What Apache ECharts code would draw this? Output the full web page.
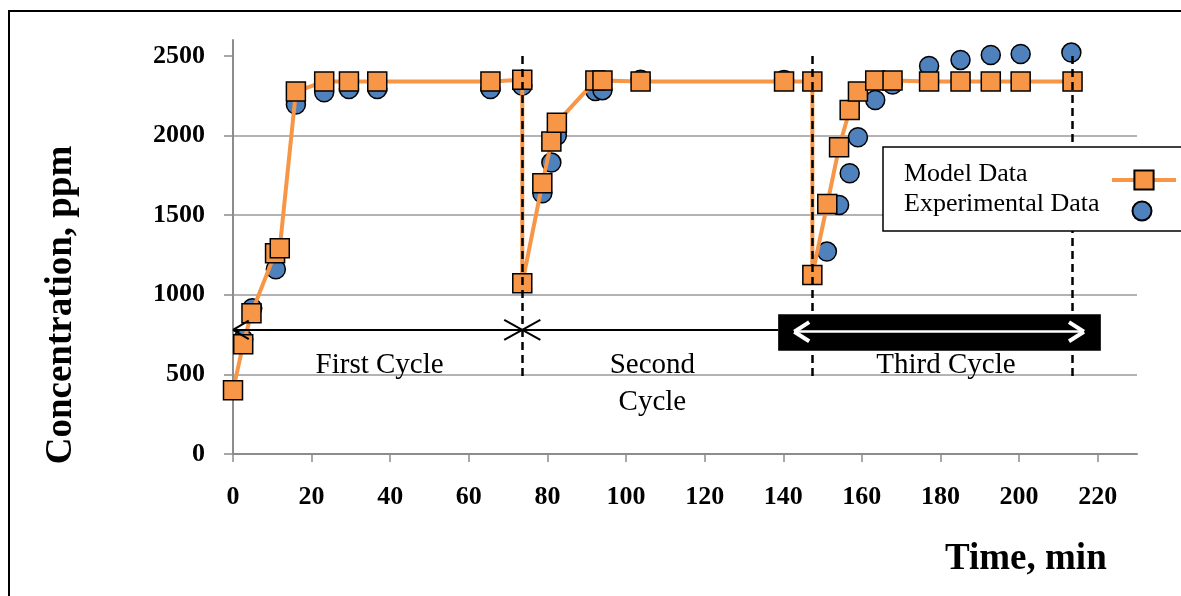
<!DOCTYPE html>
<html><head><meta charset="utf-8">
<script src="https://cdn.jsdelivr.net/npm/echarts@6/dist/echarts.min.js"></script>
<style>html,body{margin:0;padding:0;background:#fff}#c{width:1181px;height:596px}</style>
</head><body><div id="c"></div>
<script>
// ---- data ----
const xTicks = [0, 20, 40, 60, 80, 100, 120, 140, 160, 180, 200, 220];
const yTicks = [0, 500, 1000, 1500, 2000, 2500];
const seriesNames = ['Model Data', 'Experimental Data'];
const modelTime = [0, 2.6, 4.7, 10.7, 11.9, 16, 23.2, 29.5, 36.7, 65.5, 73.6, 73.6, 78.7, 81, 82.4, 92.2, 94, 103.7, 140.2, 147.4, 147.4, 151.2, 154.2, 156.9, 159, 163.4, 167.8, 177.1, 185.1, 192.8, 200.4, 213.6];
const modelConc = [400, 690, 884, 1260, 1292, 2276, 2339, 2339, 2339, 2339, 2350, 1072, 1700, 1962, 2081, 2345, 2345, 2339, 2339, 2339, 1124, 1570, 1926, 2161, 2276, 2345, 2345, 2339, 2339, 2339, 2339, 2339];
const expTime = [2.6, 4.9, 10.9, 16, 23.2, 29.5, 36.7, 65.5, 73.6, 78.7, 81, 82.4, 92.2, 94, 103.7, 140.2, 151.1, 154.2, 156.9, 159, 163.4, 167.8, 177.1, 185.1, 192.8, 200.4, 213.3];
const expConc = [720, 915, 1160, 2195, 2272, 2292, 2292, 2292, 2313, 1637, 1830, 2000, 2280, 2285, 2350, 2349, 1271, 1564, 1763, 1989, 2223, 2320, 2437, 2475, 2506, 2512, 2521];
const cycleEnds = [73.6, 147.4, 213.6];
const cycleLineRange = [480, 2500];
const cycleNames = ['First Cycle', 'Second\nCycle', 'Third Cycle'];
const cycleLabelTime = [37.3, 106.7, 181.4];
const cycleLabelConc = [557, 442, 557];
const arrowConc = 780;
const arrowStart = 0;
const barTime = [138.7, 220.8];
const barConc = [649, 877];
const whiteArrowTime = [142.8, 216.5];
const whiteArrowConc = 768;

const FONT = "'Liberation Serif', 'Times New Roman', serif";
const zip = (a, b) => a.map((v, i) => [v, b[i]]);

function chevron(tx, ty, dx, dy, style) {
  return [
    [{ coord: [tx + dx, ty + dy], lineStyle: style }, { coord: [tx, ty] }],
    [{ coord: [tx + dx, ty - dy], lineStyle: style }, { coord: [tx, ty] }]
  ];
}
const blackSolid = { color: '#000', width: 2, type: 'solid' };
const whiteSolid = { color: '#fff', width: 2.5, type: 'solid' };
const whiteHead = { color: '#fff', width: 4, type: 'solid' };
const dashed = { color: '#000', width: 2.5, type: [8, 5] };

const blackLines = [
  [{ coord: [arrowStart, arrowConc], lineStyle: blackSolid }, { coord: [barTime[0], arrowConc] }],
  ...chevron(arrowStart, arrowConc, 4.0, 58, blackSolid),
  ...chevron(cycleEnds[0], arrowConc, -4.6, 63, blackSolid),
  ...chevron(cycleEnds[0], arrowConc, 4.6, 63, blackSolid)
];
const dashLines = cycleEnds.map(t => [{ coord: [t, cycleLineRange[1]], lineStyle: dashed }, { coord: [t, cycleLineRange[0]] }]);
const whiteLines = [
  [{ coord: [whiteArrowTime[0], whiteArrowConc], lineStyle: whiteSolid }, { coord: [whiteArrowTime[1], whiteArrowConc] }],
  ...chevron(whiteArrowTime[0], whiteArrowConc, 3.8, 60, whiteHead),
  ...chevron(whiteArrowTime[1], whiteArrowConc, -3.8, 60, whiteHead)
];

const tickFont = { fontSize: 26, fontWeight: 'bold', color: '#000', fontFamily: FONT };
const chart = echarts.init(document.getElementById('c'), null, { renderer: 'canvas' });
chart.setOption({
  animation: false,
  backgroundColor: '#fff',
  grid: { left: 233, right: 44, top: 40, bottom: 142, containLabel: false },
  xAxis: {
    type: 'value', min: 0, max: 230, interval: 20,
    axisLine: { show: true, lineStyle: { color: '#8c8c8c', width: 2 } },
    axisTick: { show: true, length: 8, lineStyle: { color: '#8c8c8c', width: 1.5 }, customValues: xTicks },
    axisLabel: Object.assign({ customValues: xTicks, margin: 30, formatter: v => String(v) }, tickFont),
    splitLine: { show: false }
  },
  yAxis: {
    type: 'value', min: 0, max: 2600, interval: 500,
    axisLine: { show: true, lineStyle: { color: '#8c8c8c', width: 2 } },
    axisTick: { show: true, length: 9, lineStyle: { color: '#8c8c8c', width: 1.5 }, customValues: yTicks },
    axisLabel: Object.assign({ customValues: yTicks, margin: 28, formatter: v => String(v) }, tickFont),
    splitLine: { show: true, showMaxLine: false, lineStyle: { color: '#9a9a9a', width: 1.5 } }
  },
  legend: [
    {
      data: [seriesNames[0]], orient: 'vertical', left: 1105, top: 163,
      itemWidth: 64, itemHeight: 24, formatter: () => '', selectedMode: false, z: 9,
      lineStyle: { width: 4 }
    },
    {
      data: [seriesNames[1]], orient: 'vertical', left: 1110, top: 195.5,
      itemWidth: 54, itemHeight: 19, formatter: () => '', selectedMode: false, z: 9
    }
  ],
  graphic: [
    { type: 'rect', shape: { x: 9, y: 11, width: 1200, height: 700 }, style: { fill: 'none', stroke: '#000', lineWidth: 2 }, z: 1, silent: true },
    { type: 'rect', shape: { x: 883, y: 147, width: 320, height: 84 }, style: { fill: '#fff', stroke: '#000', lineWidth: 1.5 }, z: 8, silent: true },
    { type: 'text', left: 904, top: 161, z: 9, style: { text: 'Model Data', font: "26px 'Liberation Serif', serif", fill: '#000' } },
    { type: 'text', left: 904, top: 191, z: 9, style: { text: 'Experimental Data', font: "26px 'Liberation Serif', serif", fill: '#000' } },
    { type: 'text', left: 945, top: 541, z: 9, style: { text: 'Time, min', font: "bold 37px 'Liberation Serif', serif", fill: '#000' } },
    { type: 'text', x: 61, y: 305, rotation: Math.PI / 2, z: 9, style: { text: 'Concentration, ppm', font: "bold 37px 'Liberation Serif', serif", fill: '#000', align: 'center', verticalAlign: 'middle' } }
  ],
  series: [
    {
      name: 'Experimental Data', type: 'scatter', z: 2,
      data: zip(expTime, expConc), symbol: 'circle', symbolSize: 19,
      itemStyle: { color: '#4F81BD', borderColor: '#000', borderWidth: 1.5, opacity: 1 }
    },
    {
      name: 'Model Data', type: 'line', z: 3,
      data: zip(modelTime, modelConc), symbol: 'rect', symbolSize: 19, showSymbol: true,
      lineStyle: { color: '#F79646', width: 4 },
      itemStyle: { color: '#F79646', borderColor: '#000', borderWidth: 1.5 }
    },
    {
      name: 'annotations', type: 'line', data: [], silent: true,
      markLine: { z: 5, silent: true, symbol: 'none', label: { show: false }, animation: false, data: [...dashLines, ...blackLines] },
      markPoint: {
        z: 5, silent: true, symbol: 'rect', symbolSize: 1, itemStyle: { color: 'rgba(0,0,0,0)' },
        label: { show: true, position: 'inside', formatter: '{b}', color: '#000', fontSize: 29, lineHeight: 37, fontFamily: FONT },
        data: cycleNames.map((n, i) => ({ name: n, coord: [cycleLabelTime[i], cycleLabelConc[i]] }))
      }
    },
    {
      name: 'bar', type: 'line', data: [], silent: true,
      markArea: { z: 6, silent: true, itemStyle: { color: '#000', opacity: 1 }, data: [[{ coord: [barTime[0], barConc[0]] }, { coord: [barTime[1], barConc[1]] }]] },
      markLine: { z: 7, silent: true, symbol: 'none', label: { show: false }, animation: false, data: whiteLines }
    }
  ]
});
</script></body></html>
